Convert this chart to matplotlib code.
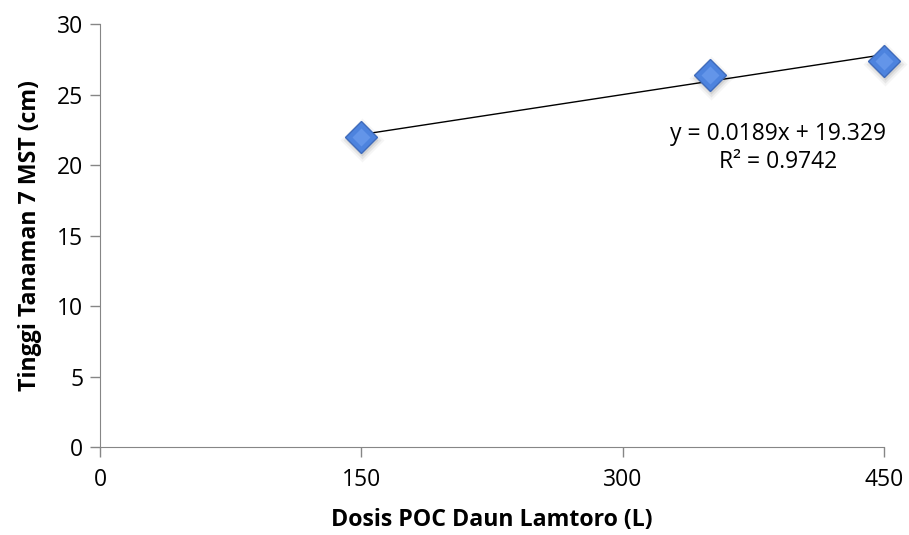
import numpy as np
import matplotlib.pyplot as plt
import matplotlib.transforms as mtransforms

dosis = [150, 350, 450]
tinggi = [22.0, 26.4, 27.4]
slope, intercept = 0.0189, 19.329
x_ticks = [0, 150, 300, 450]
y_ticks = [0, 5, 10, 15, 20, 25, 30]

plt.rcParams['font.family'] = ['Open Sans', 'DejaVu Sans']

fig = plt.figure(figsize=(9.09, 5.35), dpi=100)
ax = fig.add_axes([0.110, 0.1645, 0.8625, 0.7905])

# garis tren
xt = np.array([dosis[0], dosis[-1]])
ax.plot(xt, slope * xt + intercept, color='black', lw=1.0, zorder=3)

# bayangan marker (kabur)
for ms, a in [(22, 0.06), (19, 0.10), (16, 0.15)]:
    shadow = ax.transData + mtransforms.ScaledTranslation(1/100, -3/100, fig.dpi_scale_trans)
    ax.plot(dosis, tinggi, 'D', ms=ms, color='#606060', alpha=a, mec='none',
            zorder=2, transform=shadow, clip_on=False)
ax.plot(dosis, tinggi, 'D', ms=16, color='#4d83de', mec='#3f6bbb', mew=1.0,
        zorder=4, clip_on=False)
ax.plot(dosis, tinggi, 'D', ms=9, color='#72a2f2', mec='none', alpha=0.6,
        zorder=5, clip_on=False)

ax.text(389, 21.2, 'y = 0.0189x + 19.329\nR² = 0.9742', ha='center', va='center',
        fontsize=16.5, linespacing=1.25)

ax.set_xlim(0, 450)
ax.set_ylim(0, 30)
ax.set_xticks(x_ticks)
ax.set_yticks(y_ticks)
ax.tick_params(direction='out', length=7, width=1, color='#868686', labelsize=16.5)
ax.tick_params(axis='x', pad=8)
ax.tick_params(axis='y', pad=5)
for s in ['top', 'right']:
    ax.spines[s].set_visible(False)
for s in ['left', 'bottom']:
    ax.spines[s].set_color('#868686')

ax.set_xlabel('Dosis POC Daun Lamtoro (L)', fontsize=16.7, fontweight='bold', labelpad=12)
ax.set_ylabel('Tinggi Tanaman 7 MST (cm)', fontsize=16.7, fontweight='bold', labelpad=11)

fig.savefig('out.png', dpi=100)
